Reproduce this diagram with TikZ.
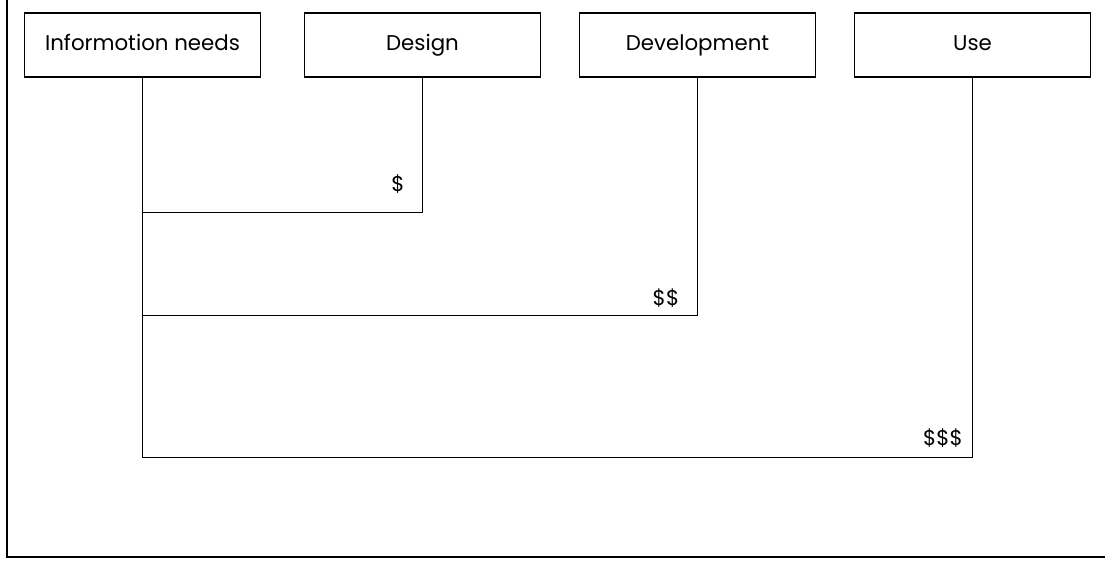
\documentclass[tikz,border=0pt]{standalone}
\usepackage{fontspec}
\setmainfont{Poppins}
\begin{document}
\begin{tikzpicture}[x=0.75pt,y=-0.75pt]

          \tikzstyle{stageBox} = [draw, line width=0.9pt, minimum width=177pt, minimum height=48pt, inner sep=0pt, text height=11pt, text depth=3pt, font=\fontsize{16}{19}\selectfont];
          \tikzstyle{costLabel} = [font=\fontsize{16}{19}\selectfont];

          \useasboundingbox (0,0) rectangle (1105,560);
          \draw[line width=1.3pt] (7,0) -- (7,557) -- (1105,557);

          \node[stageBox] (info) at (142.5,45) {Informotion needs};
          \node[stageBox] (design) at (422.5,45) {Design};
          \node[stageBox] (dev) at (697.5,45) {Development};
          \node[stageBox] (use) at (972.5,45) {Use};

          \coordinate (k1) at (142.5,212);
          \coordinate (k2) at (142.5,315);
          \coordinate (k3) at (142.5,457);

          \draw[line width=0.75pt] (info) -- (k3) -| (use);
          \draw[line width=0.75pt] (k1) -| (design);
          \draw[line width=0.75pt] (k2) -| (dev);

          \node[costLabel] (c1) at (398,184) {\$};
          \node[costLabel] (c2) at (666,298) {\$\$};
          \node[costLabel] (c3) at (943,438) {\$\$\$};
        \end{tikzpicture}
\end{document}
